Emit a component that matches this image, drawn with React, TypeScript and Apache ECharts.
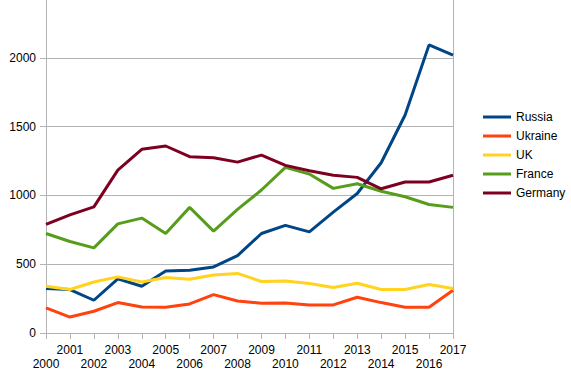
import React, { useEffect, useRef } from "react";
import * as echarts from "echarts";

const years = ["2000","2001","2002","2003","2004","2005","2006","2007","2008","2009","2010","2011","2012","2013","2014","2015","2016","2017"];
const russia = [323, 316, 238, 393, 340, 451, 456, 480, 562, 723, 782, 735, 878, 1014, 1237, 1584, 2094, 2019];
const ukraine = [182, 116, 158, 221, 189, 187, 211, 279, 233, 216, 218, 204, 204, 260, 221, 187, 187, 311];
const uk = [340, 316, 371, 408, 371, 403, 391, 422, 433, 374, 378, 359, 330, 362, 316, 316, 352, 323];
const france = [723, 665, 619, 793, 835, 723, 913, 740, 898, 1039, 1204, 1155, 1051, 1085, 1030, 990, 934, 913];
const germany = [789, 859, 917, 1184, 1335, 1359, 1281, 1274, 1242, 1293, 1218, 1179, 1146, 1131, 1048, 1097, 1097, 1146];

const seriesNames = ["Russia", "Ukraine", "UK", "France", "Germany"];
const seriesData = [russia, ukraine, uk, france, germany];
const colors = ["#004586", "#ff420e", "#ffd320", "#579d1c", "#7e0021"];

const yTicks = { min: 0, max: 2500, interval: 500 };

export default function App() {
  const ref = useRef<HTMLDivElement>(null);
  useEffect(() => {
    if (!ref.current) return;
    const chart = echarts.init(ref.current, undefined, { renderer: "svg" });
    const gray = "#b3b3b3";
    chart.setOption({
      animation: false,
      color: colors,
      textStyle: { fontFamily: "Liberation Sans", color: "#000" },
      grid: { left: 46, right: 118, top: 0, bottom: 42, containLabel: false },
      legend: {
        orient: "vertical",
        left: 478,
        top: 117,
        itemWidth: 28,
        itemHeight: 3,
        itemGap: 7,
        icon: "rect",
        textStyle: { fontSize: 12, color: "#000", fontFamily: "Liberation Sans" },
        data: seriesNames,
      },
      xAxis: {
        type: "category",
        data: years,
        boundaryGap: false,
        axisLine: { show: true, lineStyle: { color: gray, width: 1 } },
        axisTick: { show: true, length: 6, inside: false, alignWithLabel: true, lineStyle: { color: gray } },
        splitLine: { show: false },
        axisLabel: {
          interval: 0,
          margin: 10,
          fontSize: 12,
          lineHeight: 14,
          color: "#000",
          fontFamily: "Liberation Sans",
          formatter: (v: string, i: number) => (i % 2 === 0 ? "\n" + v : v),
        },
      },
      yAxis: [
        {
          type: "value",
          min: yTicks.min,
          max: yTicks.max,
          interval: yTicks.interval,
          axisLine: { show: true, lineStyle: { color: gray, width: 1 } },
          axisTick: { show: true, length: 6, lineStyle: { color: gray } },
          splitLine: { show: true, lineStyle: { color: gray, width: 1 } },
          axisLabel: {
            margin: 10,
            fontSize: 12,
            color: "#000",
            fontFamily: "Liberation Sans",
            showMaxLabel: false,
            formatter: (v: number) => String(v),
          },
        },
        {
          type: "value",
          position: "right",
          min: yTicks.min,
          max: yTicks.max,
          interval: yTicks.interval,
          axisLine: { show: true, lineStyle: { color: gray, width: 1 } },
          axisTick: { show: false },
          splitLine: { show: false },
          axisLabel: { show: false },
        },
      ],
      series: seriesNames.map((name, i) => ({
        name,
        type: "line",
        data: seriesData[i],
        symbol: "none",
        showSymbol: false,
        lineStyle: { width: 3, color: colors[i] },
        itemStyle: { color: colors[i] },
      })),
    });
    return () => chart.dispose();
  }, []);
  return <div ref={ref} style={{ position: "absolute", left: 0, top: -11, width: 571, height: 386 }} />;
}
